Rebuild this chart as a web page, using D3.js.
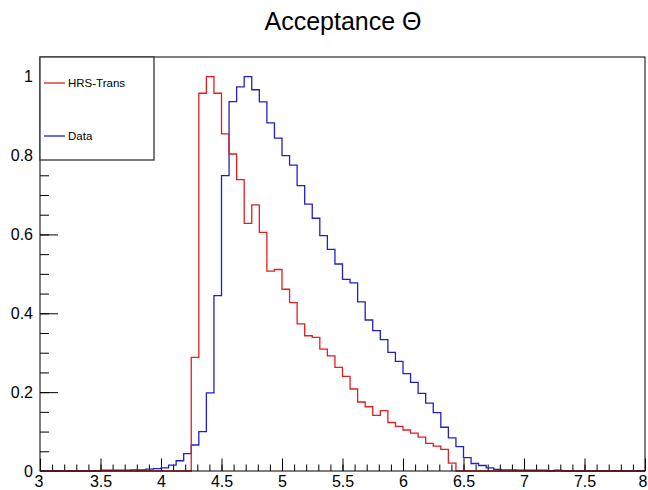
<!DOCTYPE html>
<html>
<head>
<meta charset="utf-8">
<script src="https://cdn.jsdelivr.net/npm/d3@7"></script>
<style>
  body { margin: 0; background: #fff; }
  text { font-family: "Liberation Sans", Arial, Helvetica, sans-serif; }
</style>
</head>
<body>
<div id="graph1"></div>
<script>
// histogram binning: 80 bins from 3 to 8
const xMin = 3;
const binWidth = 0.0625;

// HRS-Trans (red), normalised bin contents
const hrsTrans = [
  0, 0, 0, 0, 0, 0, 0, 0, 0, 0,
  0, 0, 0, 0, 0, 0, 0, 0, 0, 0,
  0.288, 0.958, 1.0, 0.958, 0.855, 0.804, 0.739, 0.628, 0.675, 0.605,
  0.507, 0.511, 0.461, 0.427, 0.373, 0.343, 0.339, 0.309, 0.292, 0.263,
  0.240, 0.208, 0.175, 0.163, 0.141, 0.153, 0.123, 0.113, 0.104, 0.096,
  0.086, 0.070, 0.063, 0.055, 0.020, 0, 0, 0, 0, 0,
  0, 0, 0, 0, 0, 0, 0, 0, 0, 0,
  0, 0, 0, 0, 0, 0, 0, 0, 0, 0
];

// Data (blue)
const dataHist = [
  0, 0, 0, 0, 0, 0, 0, 0, 0.002, 0.002,
  0.002, 0.002, 0.003, 0.003, 0.005, 0.006, 0.008, 0.015, 0.026, 0.044,
  0.066, 0.10, 0.198, 0.445, 0.749, 0.937, 0.974, 1.0, 0.967, 0.936,
  0.883, 0.844, 0.80, 0.776, 0.724, 0.677, 0.641, 0.597, 0.562, 0.525,
  0.486, 0.477, 0.429, 0.383, 0.356, 0.333, 0.301, 0.278, 0.247, 0.225,
  0.197, 0.172, 0.148, 0.111, 0.084, 0.062, 0.034, 0.019, 0.014, 0.008,
  0.004, 0.003, 0.003, 0.002, 0.002, 0.002, 0.002, 0, 0.002, 0,
  0, 0, 0, 0, 0, 0, 0, 0, 0, 0
];

const xTicks = [3, 3.5, 4, 4.5, 5, 5.5, 6, 6.5, 7, 7.5, 8];
const xTickLabels = ["3", "3.5", "4", "4.5", "5", "5.5", "6", "6.5", "7", "7.5", "8"];
const yTicks = [0, 0.2, 0.4, 0.6, 0.8, 1];
const yTickLabels = ["0", "0.2", "0.4", "0.6", "0.8", "1"];

const legendNames = ["HRS-Trans", "Data"];
const colors = ["#e01f1f", "#2020c8"];

const width = 648, height = 490;
const frame = {left: 40, right: 645, top: 57, bottom: 471};

let svg = d3.select("#graph1")
    .append("svg")
    .attr("width", width)
    .attr("height", height);

let x = d3.scaleLinear()
    .domain([3, 8])
    .range([frame.left, frame.right]);

let y = d3.scaleLinear()
    .domain([0, 1.05])
    .range([frame.bottom, frame.top]);

// title
svg.append("text")
    .attr("x", 343)
    .attr("y", 30)
    .style("text-anchor", "middle")
    .style("font-size", "25px")
    .text("Acceptance \u0398");

// minor ticks
svg.append("g")
    .attr("transform", `translate(0, ${frame.bottom})`)
    .call(d3.axisBottom(x).tickValues(d3.range(30, 81).map(d => d / 10)).tickSize(-6.5).tickFormat(""))
    .call(g => g.select(".domain").remove());

svg.append("g")
    .attr("transform", `translate(${frame.left}, 0)`)
    .call(d3.axisLeft(y).tickValues(d3.range(0, 21).map(d => d / 20)).tickSize(-9).tickFormat(""))
    .call(g => g.select(".domain").remove());

// major ticks + labels
let xAxis = svg.append("g")
    .attr("transform", `translate(0, ${frame.bottom})`)
    .call(d3.axisBottom(x).tickValues(xTicks).tickSize(-12.5).tickPadding(5)
        .tickFormat((d, i) => xTickLabels[i]))
    .call(g => g.select(".domain").remove());
xAxis.selectAll("text")
    .style("font-size", "16px")
    .attr("fill", "#000")
    .attr("dx", d => d === 8 ? -2.5 : (d === 3 ? -1.5 : 0));

let yAxis = svg.append("g")
    .attr("transform", `translate(${frame.left}, 0)`)
    .call(d3.axisLeft(y).tickValues(yTicks).tickSize(-18).tickPadding(7)
        .tickFormat((d, i) => yTickLabels[i]))
    .call(g => g.select(".domain").remove());
yAxis.selectAll("text").style("font-size", "16px").attr("fill", "#000");

svg.selectAll(".tick line").attr("stroke", "#000");

// histograms (drawn blue first, red on top)
let line = d3.line()
    .x(d => x(d[0]))
    .y(d => y(d[1]))
    .curve(d3.curveStepAfter);

function stepPoints(values) {
    let pts = values.map((v, i) => [xMin + i * binWidth, v]);
    pts.push([xMin + values.length * binWidth, values[values.length - 1]]);
    return pts;
}

[dataHist, hrsTrans].forEach((vals, k) => {
    svg.append("path")
        .datum(stepPoints(vals))
        .attr("fill", "none")
        .attr("stroke", k === 0 ? colors[1] : colors[0])
        .attr("stroke-width", 1.3)
        .attr("d", line);
});

// frame
svg.append("rect")
    .attr("x", frame.left)
    .attr("y", frame.top)
    .attr("width", frame.right - frame.left)
    .attr("height", frame.bottom - frame.top)
    .attr("fill", "none")
    .attr("stroke", "#000")
    .attr("stroke-width", 1);

// legend
let legend = svg.append("g");
legend.append("rect")
    .attr("x", 40)
    .attr("y", 57)
    .attr("width", 114)
    .attr("height", 103)
    .attr("fill", "#fff")
    .attr("stroke", "#333")
    .attr("stroke-width", 1.3);

let legendY = [83, 136];
legendNames.forEach((name, i) => {
    legend.append("line")
        .attr("x1", 44).attr("x2", 65)
        .attr("y1", legendY[i]).attr("y2", legendY[i])
        .attr("stroke", colors[i])
        .attr("stroke-width", 1.3);
    legend.append("text")
        .attr("x", 68)
        .attr("y", legendY[i] + 4)
        .style("font-size", "11.5px")
        .text(name);
});
</script>
</body>
</html>
